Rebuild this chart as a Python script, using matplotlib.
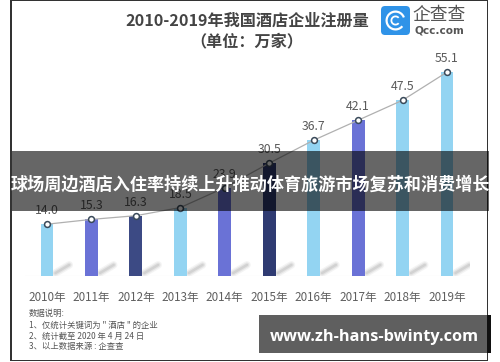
import matplotlib
matplotlib.use('Agg')
import matplotlib.pyplot as plt
from matplotlib.patches import Rectangle, FancyBboxPatch, Wedge

plt.rcParams['font.family'] = ['Noto Sans CJK SC', 'DejaVu Sans']

years = ['2010年', '2011年', '2012年', '2013年', '2014年',
         '2015年', '2016年', '2017年', '2018年', '2019年']
values = [14.0, 15.3, 16.3, 18.5, 23.9, 30.5, 36.7, 42.1, 47.5, 55.1]
colors = ['#93d4f2', '#6a72d6', '#3c4a84', '#93d4f2', '#6a72d6',
          '#2f3b72', '#93d4f2', '#6a72d6', '#93d4f2', '#93d4f2']
notes = ['数据说明:', '1、仅统计关键词为 " 酒店 " 的企业',
         '2、统计截至 2020 年 4 月 24 日', '3、以上数据来源 : 企查查']
W, H = 500, 362


def fx(px):
    return px / W


def fy(py):
    return 1 - py / H


fig = plt.figure(figsize=(W / 100, H / 100), dpi=100, facecolor='white')

# chart area: baseline at y=276, 3.7 px per unit
ax = fig.add_axes([fx(25), fy(276), 445 / W, 259 / H])
ax.set_xlim(-0.495, 9.518)
ax.set_ylim(0, 70)
ax.axis('off')

x = list(range(len(values)))
ax.bar(x, values, width=0.29, color=colors, zorder=2)
ax.plot(x, values, color='#b0b0b0', lw=0.9, zorder=3)
ax.plot(x, values, ls='none', marker='o', ms=4.2, mfc='white', mec='#3a4a5a', mew=1.1, zorder=4)
ax.axhline(0, color='#e4e6ea', lw=0.8, zorder=1)

# soft diagonal shadows next to the bars
for i in x:
    for a, w in [(0.08, 5.5), (0.12, 3.6), (0.16, 1.8)]:
        ax.plot([i + 0.19, i + 0.5], [0.8, 3.0], color='#777777', alpha=a, lw=w,
                solid_capstyle='round', zorder=1)

for i, v in zip(x, values):
    ax.annotate(f'{v:.1f}', (i, v), xytext=(0, 5), textcoords='offset points',
                ha='center', va='bottom', fontsize=8.8, color='#5a5a5a', fontweight='medium', zorder=3)

for i, label in zip(x, years):
    ax.annotate(label, (i, 0), xytext=(0, -15.5), textcoords='offset points',
                ha='center', va='center', fontsize=8.4, color='#5f5f5f', fontweight='medium',
                annotation_clip=False)

fig.text(fx(247), fy(21), '2010-2019年我国酒店企业注册量', ha='center', va='center',
         fontsize=11.6, fontweight='bold', color='#444444')
fig.text(fx(247), fy(41), '（单位：万家）', ha='center', va='center',
         fontsize=11.6, fontweight='bold', color='#444444')

# logo
logo = fig.add_axes([fx(381), fy(35), 29 / W, 29 / H], zorder=3)
logo.set_xlim(0, 29)
logo.set_ylim(0, 29)
logo.axis('off')
logo.add_patch(FancyBboxPatch((0, 0), 29, 29, boxstyle='round,pad=0,rounding_size=4', fc='#2f93e8', ec='none'))
logo.add_patch(Wedge((14.5, 14.5), 10, 20, 320, width=2.2, fc='white', ec='none'))
logo.add_patch(Wedge((14.5, 14.5), 5, 40, 320, width=1.8, fc='white', ec='none'))
fig.text(fx(439), fy(15), '企查查', ha='center', va='center', fontsize=12.8, color='#555555')
fig.text(fx(439), fy(30.5), 'Qcc.com', ha='center', va='center', fontsize=7.6,
         fontweight='bold', color='#555555', fontfamily='DejaVu Sans')

for py, line in zip([313, 325, 336, 347], notes):
    fig.text(fx(29), fy(py), line, ha='left', va='center', fontsize=6.0, color='#555555')

# frame
for (x0, y0, w, h) in [(10, 0, 1.5, 361), (486.5, 0, 1.5, 361), (10, 359.5, 478, 1.5), (10, 0, 478, 1)]:
    fig.add_artist(Rectangle((fx(x0), fy(y0 + h)), w / W, h / H, transform=fig.transFigure,
                             fc='#333333', ec='none'))

# banner over the chart
fig.add_artist(Rectangle((fx(12), fy(211)), 477 / W, 60 / H, transform=fig.transFigure,
                         fc='black', alpha=0.6, ec='none', zorder=5))
fig.text(fx(250), fy(185), '球场周边酒店入住率持续上升推动体育旅游市场复苏和消费增长', ha='center', va='center',
         fontsize=12.3, fontweight='bold', color='white', zorder=6)

# url box
fig.add_artist(Rectangle((fx(259), fy(353)), 232 / W, 38 / H, transform=fig.transFigure,
                         fc='#5f5f5f', ec='none', zorder=5))
fig.add_artist(Rectangle((fx(487), fy(353)), 4 / W, 38 / H, transform=fig.transFigure,
                         fc='#111111', ec='none', zorder=5))
fig.text(fx(374.5), fy(337), 'www.zh-hans-bwinty.com', ha='center', va='center', fontsize=11.8,
         fontweight='bold', color='white', fontfamily='Open Sans', zorder=6)

fig.savefig('out.png', dpi=100)
